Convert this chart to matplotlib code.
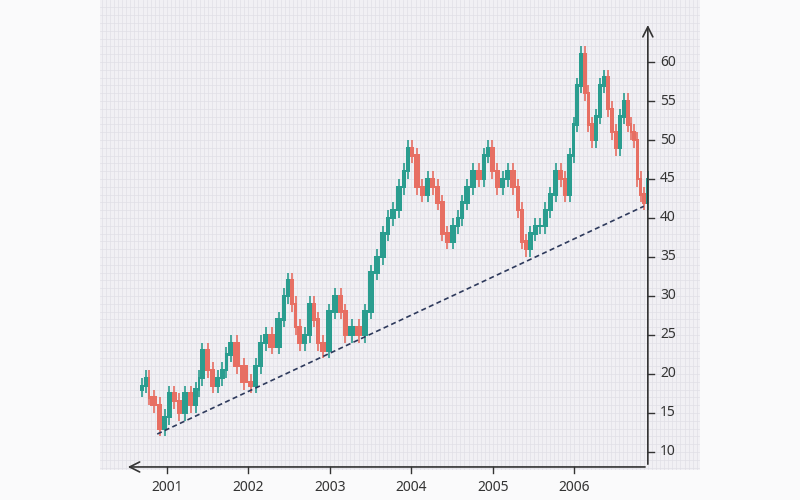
import matplotlib
matplotlib.use("Agg")
import matplotlib.pyplot as plt
from matplotlib.ticker import MultipleLocator

dates = [2000.67,2000.72,2000.77,2000.79,2000.88,2000.94,2001.00,2001.06,2001.12,2001.18,2001.26,2001.32,2001.38,2001.40,
 2001.47,2001.53,2001.59,2001.65,2001.71,2001.75,2001.81,2001.90,2001.99,2002.06,2002.12,2002.18,2002.24,2002.33,2002.41,
 2002.46,2002.51,2002.56,2002.60,2002.66,2002.72,2002.78,2002.83,2002.88,2002.95,2003.02,2003.10,2003.16,2003.22,2003.31,
 2003.39,2003.47,2003.54,2003.61,2003.69,2003.74,2003.81,2003.88,2003.93,2003.98,2004.03,2004.10,2004.17,2004.23,2004.29,
 2004.35,2004.41,2004.47,2004.55,2004.60,2004.64,2004.72,2004.79,2004.87,2004.91,2004.96,2005.02,2005.09,2005.15,2005.21,
 2005.28,2005.33,2005.38,2005.43,2005.49,2005.55,2005.61,2005.67,2005.74,2005.80,2005.86,2005.91,2005.97,2006.01,2006.06,
 2006.10,2006.15,2006.19,2006.24,2006.29,2006.34,2006.39,2006.44,2006.48,2006.53,2006.58,2006.63,2006.68,2006.71,2006.75,
 2006.79,2006.83,2006.88]
closes = [18.5,19.5,17,16,13,14.5,17.5,16.5,15,17.5,16,18,19.5,23,
 20.5,18.5,19.5,20.5,22.5,24,21,19,18.5,21,24,25,23.5,27,30,
 32,29,26,24,25,29,27,24,23,28,30,28,25,26,25,
 28,33,35,38,40,41,44,46,49,48,44,43,45,44,42,
 38,37,39,40,42,44,46,45,48,49,46,44,45,46,44,
 41,37,36,38,39,39,41,43,46,45,43,48,52,57,61,
 56,52,50,53,57,58,54,51,49,53,55,52,51,50,45,
 43,42,45]
first_open = 18.0
trend_x = [2000.88, 2006.85]
trend_y = [12.3, 41.5]
yticks = [10, 15, 20, 25, 30, 35, 40, 45, 50, 55, 60]
xticks = [2001, 2002, 2003, 2004, 2005, 2006]

UP = "#2a9d8f"
DOWN = "#e76f63"

fig = plt.figure(figsize=(8, 5), dpi=100)
fig.patch.set_facecolor("#fafafb")
ax = fig.add_axes([0.125, 0.06, 0.75, 0.94])
ax.set_facecolor("#f1f0f4")
ax.set_xlim(2000.178, 2007.54)
ax.set_ylim(7.69, 67.95)
for s in ax.spines.values():
    s.set_visible(False)
ax.xaxis.set_minor_locator(MultipleLocator(0.05))
ax.yaxis.set_minor_locator(MultipleLocator(1))
ax.xaxis.set_major_locator(MultipleLocator(0.25))
ax.yaxis.set_major_locator(MultipleLocator(5))
ax.grid(which="both", color="#e0dfe6", lw=0.5)
ax.tick_params(which="both", length=0, labelbottom=False, labelleft=False)
ax.set_axisbelow(True)

opens = [first_open] + closes[:-1]
for i, (d, o, c) in enumerate(zip(dates, opens, closes)):
    w = (dates[i+1] - d) if i + 1 < len(dates) else 0.04
    col = UP if c >= o else DOWN
    lo, hi = min(o, c), max(o, c)
    ax.vlines(d + w/2, lo - 1.0, hi + 1.0, color=col, lw=1.2, zorder=3)
    ax.bar(d, hi - lo + 0.3, bottom=lo - 0.15, width=w, align="edge", color=col, zorder=3)

ax.plot(trend_x, trend_y, ls=(0, (3, 2)), color="#2e3a5c", lw=1.2, zorder=4)

ax_x = 2006.90
ax_y = 8.08
ax.annotate("", xy=(ax_x, 65.1), xytext=(ax_x, ax_y),
            arrowprops=dict(arrowstyle="->", color="#333", lw=1.2, mutation_scale=18))
ax.annotate("", xy=(2000.485, ax_y), xytext=(ax_x, ax_y),
            arrowprops=dict(arrowstyle="->", color="#333", lw=1.2, mutation_scale=18))
for v in yticks:
    ax.plot([ax_x, ax_x + 0.07], [v, v], color="#333", lw=1)
    ax.text(ax_x + 0.15, v, str(v), va="center", ha="left", fontsize=10, color="#333",
            family="Noto Sans")
for v in xticks:
    ax.plot([v, v], [ax_y, ax_y - 0.8], color="#333", lw=1, clip_on=False)
    ax.text(v, ax_y - 2.6, str(v), va="center", ha="center", fontsize=10, color="#333",
            clip_on=False, family="Noto Sans")

fig.savefig("out.png", dpi=100)
